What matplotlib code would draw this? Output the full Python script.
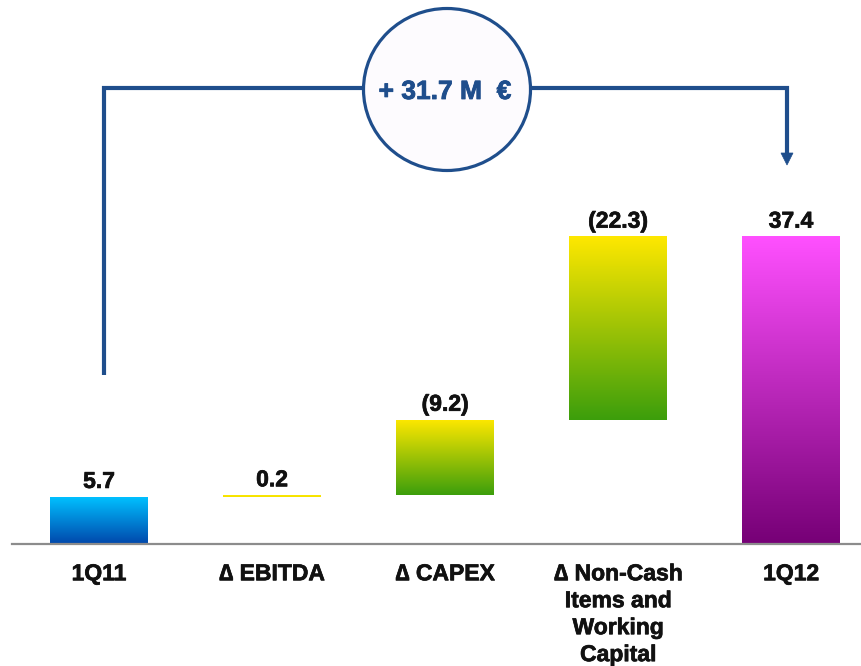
import matplotlib
matplotlib.use("Agg")
import matplotlib.pyplot as plt
import matplotlib.patheffects as pe
import numpy as np
from matplotlib.colors import LinearSegmentedColormap
from matplotlib.patches import Ellipse, Polygon

# --- data -------------------------------------------------------------
categories = ["1Q11", "\u2206 EBITDA", "\u2206 CAPEX",
              "\u2206 Non-Cash\nItems and\nWorking\nCapital", "1Q12"]
start_value = 5.7
deltas = [0.2, 9.2, 22.3]
end_value = 37.4
value_labels = ["5.7", "0.2", "(9.2)", "(22.3)", "37.4"]
change_label = "+ 31.7 M  \u20ac"

# bar heights and floating bottoms of the waterfall
heights = [start_value] + deltas + [end_value]
bottoms = [0.0] + list(np.cumsum([start_value] + deltas[:-1])) + [0.0]

# --- styling ----------------------------------------------------------
NAVY = "#1f4e8c"
gradients = [
    ("#00c0ff", "#0047ab"),   # 1Q11 (top, bottom)
    ("#ffe800", "#f0e000"),   # EBITDA (thin line)
    ("#ffe800", "#3c9e0c"),   # CAPEX
    ("#ffe800", "#3c9e0c"),   # Non-cash / WC
    ("#ff50ff", "#760076"),   # 1Q12
]
FONT = "Liberation Sans"
thick = [pe.withStroke(linewidth=0.5, foreground="#111111")]

fig = plt.figure(figsize=(8.62, 6.66), dpi=100)
ax = fig.add_axes([0, 0, 1, 1])
ax.set_xlim(-0.572, 4.410)
ax.set_ylim(-14.92, 66.2)
ax.axis("off")

x = np.arange(len(categories))
bar_w = 0.566
bars = ax.bar(x, heights, bottom=bottoms, width=bar_w,
              facecolor="none", edgecolor="none", zorder=2)

for bar, (top_c, bot_c) in zip(bars, gradients):
    x0, y0 = bar.get_x(), bar.get_y()
    x1, y1 = x0 + bar.get_width(), y0 + bar.get_height()
    cmap = LinearSegmentedColormap.from_list("g", [bot_c, top_c])
    grad = np.linspace(0, 1, 256).reshape(-1, 1)
    im = ax.imshow(grad, cmap=cmap, aspect="auto", origin="lower",
                   extent=(x0, x1, y0, y1), zorder=2,
                   interpolation="bilinear")
    im.set_clip_path(bar)

# baseline
ax.axhline(0, xmin=12 / 862, xmax=1, color="#8c8c8c", lw=1.6, zorder=3)

# value labels above each bar
for bar, lab in zip(bars, value_labels):
    top = bar.get_y() + bar.get_height()
    ax.annotate(lab, (bar.get_x() + bar.get_width() / 2, top),
                xytext=(0, 11), textcoords="offset points",
                ha="center", va="center", fontsize=16.5,
                fontweight="bold", family=FONT, color="#111111",
                path_effects=thick)

# category labels below the baseline
for xi, cat in zip(x, categories):
    ax.annotate(cat, (xi, 0), xytext=(0, -13.5), textcoords="offset points",
                ha="center", va="top", fontsize=16.5, fontweight="bold",
                family=FONT, color="#111111", linespacing=1.22,
                multialignment="center", path_effects=thick)

# --- bracket with the net change bubble (pixel overlay) -------------
ov = fig.add_axes([0, 0, 1, 1], zorder=5)
ov.set_xlim(0, 862)
ov.set_ylim(666, 0)
ov.axis("off")
ov.patch.set_alpha(0)

ov.plot([104, 104, 364], [375, 88, 88], color=NAVY, lw=3.0,
        solid_joinstyle="miter", solid_capstyle="butt")
ov.plot([530, 787, 787], [88, 88, 154], color=NAVY, lw=3.0,
        solid_joinstyle="miter", solid_capstyle="butt")
ov.add_patch(Polygon([[781, 153], [793, 153], [787, 165]], closed=True,
                     facecolor=NAVY, edgecolor=NAVY, lw=0.5))
ov.add_patch(Ellipse((447, 89.5), 167, 162, facecolor="#fdfbfe",
                     edgecolor=NAVY, lw=2.3))
ov.text(445, 92, change_label, ha="center", va="center", fontsize=19,
        fontweight="bold", color=NAVY, family=FONT,
        path_effects=[pe.withStroke(linewidth=0.6, foreground=NAVY)])

fig.savefig("out.png", dpi=100)
